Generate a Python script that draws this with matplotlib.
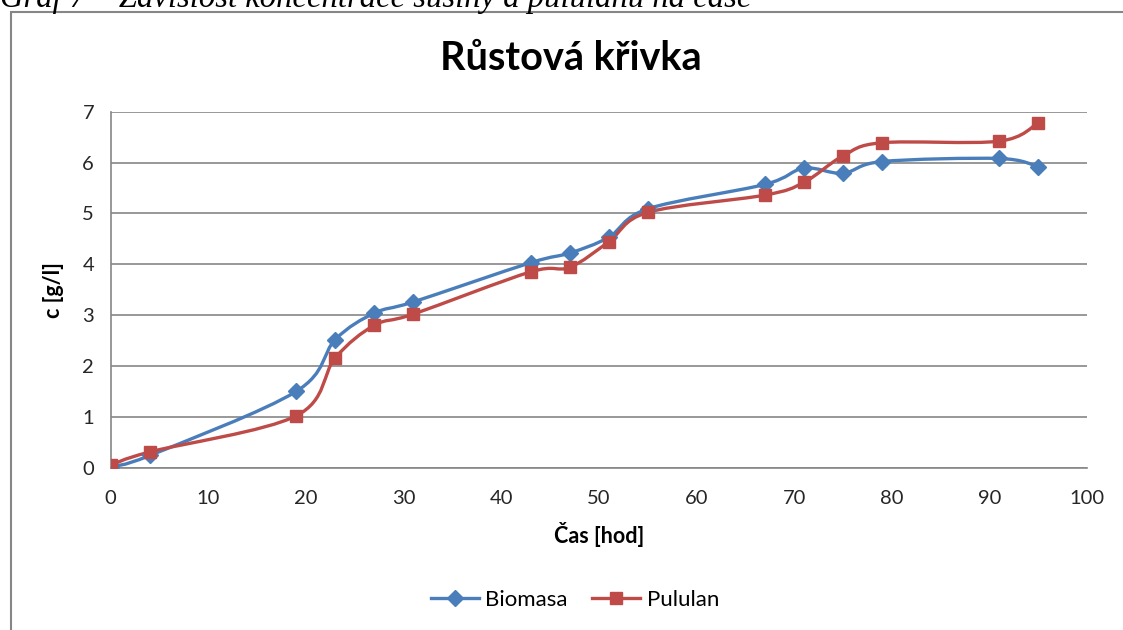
import numpy as np
import matplotlib
matplotlib.use("Agg")
import matplotlib.pyplot as plt
from matplotlib.path import Path
from matplotlib.patches import PathPatch, Rectangle
from matplotlib.lines import Line2D

# data
cas = [0, 4, 19, 23, 27, 31, 43, 47, 51, 55, 67, 71, 75, 79, 91, 95]
biomasa = [0.02, 0.24, 1.50, 2.52, 3.04, 3.26, 4.03, 4.22, 4.53, 5.09, 5.57, 5.89, 5.79, 6.02, 6.08, 5.92]
pululan = [0.05, 0.31, 1.02, 2.16, 2.80, 3.02, 3.85, 3.94, 4.44, 5.02, 5.36, 5.61, 6.13, 6.39, 6.42, 6.78]
x_ticks = [0, 10, 20, 30, 40, 50, 60, 70, 80, 90, 100]
y_ticks = [0, 1, 2, 3, 4, 5, 6, 7]

blue = "#4A7EBB"
red = "#BE4B48"
grey = "#868686"
font = "Lato"


def smooth_path(xs, ys):
    # Excel-like smoothed line: cubic bezier with catmull-rom control points
    pts = np.column_stack([xs, ys]).astype(float)
    n = len(pts)
    verts = [pts[0]]
    codes = [Path.MOVETO]
    for i in range(n - 1):
        p0 = pts[i - 1] if i > 0 else pts[i]
        p1 = pts[i]
        p2 = pts[i + 1]
        p3 = pts[i + 2] if i + 2 < n else pts[i + 1]
        c1 = p1 + (p2 - p0) / 6.0
        c2 = p2 - (p3 - p1) / 6.0
        verts += [c1, c2, p2]
        codes += [Path.CURVE4] * 3
    return Path(verts, codes)


fig = plt.figure(figsize=(11.23, 6.3), dpi=100)
ax = fig.add_axes([110.7 / 1123, 1 - 467.7 / 630, (1087 - 110.7) / 1123, (467.7 - 111.7) / 630])

for ys, col, mk, ms in [(biomasa, blue, "D", 8), (pululan, red, "s", 9)]:
    ax.add_patch(PathPatch(smooth_path(cas, ys), facecolor="none", edgecolor=col, lw=2.4, zorder=3))
    ax.plot(cas, ys, linestyle="none", marker=mk, markersize=ms, color=col, zorder=4)

ax.set_xlim(0, 100)
ax.set_ylim(0, 7)
ax.set_xticks(x_ticks)
ax.set_yticks(y_ticks)
ax.tick_params(length=0, labelsize=14.5, colors="#262626", pad=12)
ax.tick_params(axis="x", pad=16)
for lab in ax.get_xticklabels() + ax.get_yticklabels():
    lab.set_family(font)
ax.grid(axis="y", color=grey, lw=1.2)
ax.set_axisbelow(True)
for s in ["top", "right"]:
    ax.spines[s].set_visible(False)
for s in ["left", "bottom"]:
    ax.spines[s].set_color(grey)
    ax.spines[s].set_linewidth(1.2)

ax.set_xlabel("Čas [hod]", fontsize=15.5, fontweight="bold", family=font, labelpad=11)
ax.set_ylabel("c [g/l]", fontsize=15.5, fontweight="bold", family=font, labelpad=13)

fig.text(0.5085, 1 - 59 / 630, "Růstová křivka", ha="center", va="center",
         fontsize=28.5, fontweight="bold", family=font)

handles = [Line2D([], [], color=blue, lw=2.4, marker="D", markersize=8),
           Line2D([], [], color=red, lw=2.4, marker="s", markersize=9)]
fig.legend(handles, ["Biomasa", "Pululan"], loc="center", bbox_to_anchor=(0.512, 1 - 600 / 630),
           ncol=2, frameon=False, prop={"family": font, "size": 16},
           handlelength=2.15, columnspacing=1.1, handletextpad=0.3)

# chart frame and cut-off caption above it
fig.add_artist(Rectangle((10.5 / 1123, -0.05), 1.1, (630 - 12) / 630 + 0.05,
                         transform=fig.transFigure, facecolor="none", edgecolor=grey, lw=1.5))
fig.text(0.0, 1 - 7 / 630, "Graf 7 – Závislost koncentrace sušiny a pululanu na čase",
         ha="left", va="baseline", fontsize=23.5, style="italic", family="Liberation Serif")

fig.savefig("out.png", dpi=100)
